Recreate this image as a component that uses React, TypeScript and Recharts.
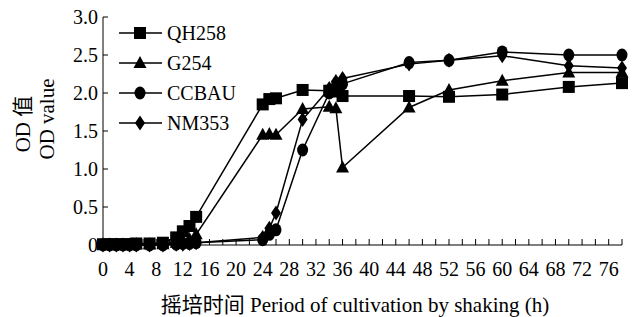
import React from 'react';
import { Line, LineChart, XAxis, YAxis } from 'recharts';

// hours of shaking culture
const times = [0, 1, 2, 3, 4, 5, 7, 9, 11, 12, 13, 14, 24, 25, 26, 30, 34, 35, 36, 46, 52, 60, 70, 78];

// OD values per strain
const qh258 = [0.01, 0.01, 0.01, 0.01, 0.01, 0.02, 0.02, 0.03, 0.1, 0.18, 0.25, 0.37, 1.85, 1.92, 1.93, 2.04, 2.03, 2.02, 1.96, 1.96, 1.95, 1.98, 2.08, 2.13];
const g254 = [0, 0, 0, 0, 0, 0.01, 0.01, 0.01, 0.03, 0.05, 0.08, 0.14, 1.45, 1.46, 1.45, 1.79, 1.82, 1.8, 1.02, 1.81, 2.04, 2.16, 2.27, 2.27];
const ccbau = [0, 0, 0, 0, 0, 0, 0, 0, 0.01, 0.02, 0.02, 0.03, 0.07, 0.14, 0.2, 1.25, 2.0, 2.08, 2.12, 2.4, 2.43, 2.54, 2.5, 2.5];
const nm353 = [0, 0, 0, 0, 0, 0, 0, 0, 0.01, 0.01, 0.02, 0.03, 0.1, 0.22, 0.42, 1.65, 2.06, 2.15, 2.19, 2.38, 2.43, 2.49, 2.36, 2.33];

const xTicks = Array.from({ length: 40 }, (_, i) => i * 2);
const yTicks = [0, 0.5, 1, 1.5, 2, 2.5, 3];

const seriesNames = ['QH258', 'G254', 'CCBAU', 'NM353'];

const data = times.map((t, i) => ({
  t,
  QH258: qh258[i],
  G254: g254[i],
  CCBAU: ccbau[i],
  NM353: nm353[i],
}));

const FONT = '"Liberation Serif", "Times New Roman", "DejaVu Serif", "Noto Sans CJK SC", serif';
const txt = { fontFamily: FONT };

function Marker({ kind, cx, cy }: { kind: string; cx: number; cy: number }) {
  if (kind === 'QH258') return <rect x={cx - 6} y={cy - 6} width={12} height={12} fill="#000" />;
  if (kind === 'G254')
    return <polygon points={`${cx},${cy - 7} ${cx - 6.5},${cy + 5} ${cx + 6.5},${cy + 5}`} fill="#000" />;
  if (kind === 'CCBAU') return <ellipse cx={cx} cy={cy} rx={5.5} ry={6.5} fill="#000" />;
  return <polygon points={`${cx},${cy - 7.5} ${cx + 5},${cy} ${cx},${cy + 7.5} ${cx - 5},${cy}`} fill="#000" />;
}

const makeDot = (kind: string) => (props: any) => {
  const { cx, cy, index } = props;
  if (cx == null || cy == null) return <g key={`${kind}-${index}`} />;
  return (
    <g key={`${kind}-${index}`}>
      <Marker kind={kind} cx={cx} cy={cy} />
    </g>
  );
};

const XTick = (props: any) => {
  const { x, y, payload } = props;
  const v = payload.value;
  return (
    <g>
      <line x1={x} y1={y} x2={x} y2={y - 6} stroke="#000" strokeWidth={1} />
      {v % 4 === 0 && v <= 76 ? (
        <text x={x} y={y + 31} textAnchor="middle" fontSize={20} style={txt} fill="#000">
          {v}
        </text>
      ) : null}
    </g>
  );
};

const YTick = (props: any) => {
  const { x, y, payload } = props;
  const v = payload.value;
  return (
    <g>
      <line x1={x} y1={y} x2={x + 5} y2={y} stroke="#000" strokeWidth={1} />
      <text x={x - 5} y={y + 7} textAnchor="end" fontSize={20} style={txt} fill="#000">
        {v === 0 ? '0' : v.toFixed(1)}
      </text>
    </g>
  );
};

function LegendBox() {
  return (
    <svg width={130} height={140} style={{ position: 'absolute', left: 110, top: 16 }}>
      {seriesNames.map((name, i) => {
        const cy = 17 + i * 30;
        return (
          <g key={name}>
            <line x1={9} y1={cy} x2={52} y2={cy} stroke="#000" strokeWidth={1.5} />
            <Marker kind={name} cx={30} cy={cy} />
            <text x={57} y={cy + 7} fontSize={20} style={txt} fill="#000">
              {name}
            </text>
          </g>
        );
      })}
    </svg>
  );
}

export default function App() {
  return (
    <div style={{ position: 'absolute', left: 0, top: 0, width: 635, height: 317, background: '#fff', fontFamily: FONT }}>
      <LineChart
        width={635}
        height={317}
        data={data}
        margin={{ top: 17, right: 13, left: 43, bottom: 42 }}
      >
        <XAxis
          dataKey="t"
          type="number"
          domain={[0, 78]}
          ticks={xTicks}
          interval={0}
          height={30}
          tickSize={0}
          tickMargin={0}
          tickLine={false}
          tick={<XTick />}
          stroke="#000"
          label={{
            content: () => (
              <text x={355} y={312} textAnchor="middle" fontSize={21} style={txt} fill="#000">
                摇培时间 Period of cultivation by shaking (h)
              </text>
            ),
          }}
        />
        <YAxis
          type="number"
          domain={[0, 3]}
          ticks={yTicks}
          interval={0}
          width={60}
          tickSize={0}
          tickMargin={0}
          tickLine={false}
          tick={<YTick />}
          stroke="#000"
          label={{
            content: () => (
              <g fontSize={21} style={txt} fill="#000">
                <text x={30} y={124} textAnchor="middle" transform="rotate(-90 30 124)">
                  OD 值
                </text>
                <text x={54} y={119} textAnchor="middle" transform="rotate(-90 54 119)">
                  OD value
                </text>
              </g>
            ),
          }}
        />
        {seriesNames.map((name) => (
          <Line
            key={name}
            dataKey={name}
            type="linear"
            stroke="#000"
            strokeWidth={1.5}
            dot={makeDot(name)}
            activeDot={false}
            isAnimationActive={false}
          />
        ))}
      </LineChart>
      <LegendBox />
    </div>
  );
}
